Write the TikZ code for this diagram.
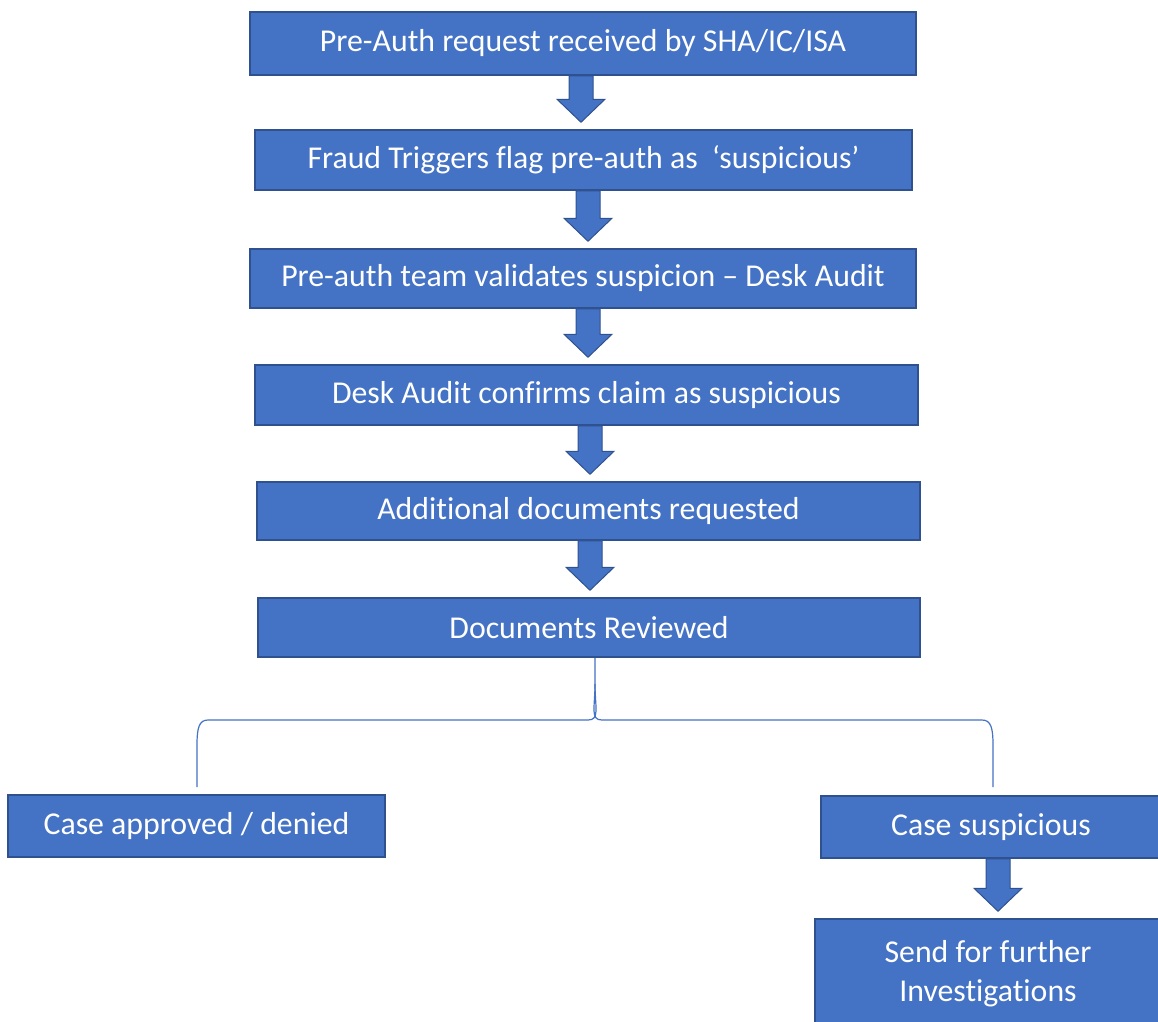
\documentclass[tikz,border=0pt]{standalone}
\usepackage{fontspec}
\setmainfont{Carlito}[Ligatures={NoCommon,NoRequired,NoContextual},Contextuals=NoAlternate]
\usetikzlibrary{calc}
\definecolor{boxblue}{HTML}{4472C4}
\definecolor{boxedge}{HTML}{2F528F}
\tikzset{
  flowbox/.style={draw=boxedge, line width=1.5pt, fill=boxblue, text=white,
    inner sep=0pt, align=center, font=\fontsize{31.8}{39}\selectfont},
  barrow/.style={draw=boxedge, line width=1pt, fill=boxblue, line join=miter},
  bracket/.style={draw=boxblue, line width=1.2pt}
}
\newcommand\blockarr[3]{%
  \path ([xshift=#3]#1.south) coordinate (s) (s |- #2.north) coordinate (e);
  \draw[barrow] ($(s)+(-12,0)$) -- ($(s)+(12,0)$) -- ($(e)+(12,-30)$) -- ($(e)+(24,-30)$)
     -- ($(e)+(0,-7)$) -- ($(e)+(-24,-30)$) -- ($(e)+(-12,-30)$) -- cycle;
}
\begin{document}
\begin{tikzpicture}[x=1pt,y=-1pt]
\useasboundingbox (0,0) rectangle (1158,1021);
\node[flowbox, minimum width=666, minimum height=63] (b1) at (583,43.5) {Pre-Auth request received by SHA/IC/ISA};
\node[flowbox, minimum width=657, minimum height=60] (b2) at (583.5,160) {Fraud Triggers flag pre-auth as\ \ ‘suspicious’};
\node[flowbox, minimum width=666, minimum height=59] (b3) at (583,278.5) {Pre-auth team validates suspicion – Desk Audit};
\node[flowbox, minimum width=663, minimum height=60] (b4) at (586.5,395) {Desk Audit confirms claim as suspicious};
\node[flowbox, minimum width=663, minimum height=58] (b5) at (588.5,511) {Addit\kern0pt ional documents requested};
\node[flowbox, minimum width=662, minimum height=59] (b6) at (589,627.5) {Documents Reviewed};
\node[flowbox, minimum width=377, minimum height=62] (b7) at (196.5,826) {Case approved / denied};
\node[flowbox, minimum width=340, minimum height=62] (b8) at (991,827) {Case suspicious};
\node[flowbox, minimum width=346, minimum height=110] (b9) at (988,974) {Send for further\\Investigat\kern0pt ions};

\blockarr{b1}{b2}{-2}
\blockarr{b2}{b3}{4.5}
\blockarr{b3}{b4}{5}
\blockarr{b4}{b5}{3.5}
\blockarr{b5}{b6}{1.5}
\blockarr{b8}{b9}{7}

% brace
\coordinate (bl) at (197,787);
\coordinate (br) at (993,787);
\draw[bracket] ([xshift=6]b6.south) -- ++(0,26)
  .. controls ++(0,24) and (600,720) .. (588,720) -- (208,720)
  .. controls (199,720) and (197,728) .. (197,745) -- (bl);
\draw[bracket] ([xshift=6]b6.south) ++(0,26)
  .. controls ++(0,24) and (590,720) .. (602,720) -- (982,720)
  .. controls (991,720) and (993,728) .. (993,745) -- (br);
\end{tikzpicture}
\end{document}
